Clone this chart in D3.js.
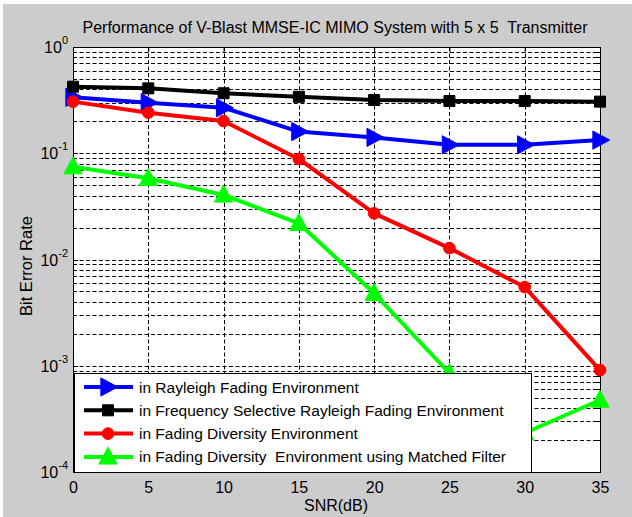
<html>
  <head>
    <script src="https://d3js.org/d3.v7.min.js"></script>
    <style>
      body { margin: 0; background: #fff; }
      text { font-family: "Liberation Sans", Arial, sans-serif; }
    </style>
  </head>
  <body>
<div id="my_dataviz"></div>
<script>
// data
var snr = [0, 5, 10, 15, 20, 25, 30, 35];
var rayleigh = [0.336, 0.299, 0.268, 0.160, 0.141, 0.120, 0.120, 0.133];
var freqSelective = [0.423, 0.408, 0.367, 0.340, 0.317, 0.310, 0.310, 0.306];
var diversity = [0.306, 0.241, 0.201, 0.0883, 0.0272, 0.0128, 0.0055, 0.00091];
var matchedFilter = [0.0747, 0.0581, 0.0405, 0.0219, 0.00481, 0.00085, 0.000233, 0.000476];
var seriesNames = [
  "in Rayleigh Fading Environment",
  "in Frequency Selective Rayleigh Fading Environment",
  "in Fading Diversity Environment",
  "in Fading Diversity  Environment using Matched Filter"
];
var xTicks = [0, 5, 10, 15, 20, 25, 30, 35];
var yExponents = [0, -1, -2, -3, -4];

var W = 632, H = 517;
var margin = {top: 47, right: 32, bottom: 45, left: 73},
    width = W - margin.left - margin.right,
    height = H - margin.top - margin.bottom;

var svg = d3.select("#my_dataviz")
  .append("svg")
    .attr("width", W)
    .attr("height", H);

// figure background
svg.append("rect")
  .attr("x", 3).attr("y", 4)
  .attr("width", W - 3).attr("height", H - 4)
  .attr("fill", "#cccccc");

var g = svg.append("g")
  .attr("transform", "translate(" + margin.left + "," + margin.top + ")");

g.append("rect")
  .attr("width", width).attr("height", height)
  .attr("fill", "#fff");

var x = d3.scaleLinear().domain([0, 35]).range([0, width]);
var y = d3.scaleLog().domain([1e-4, 1]).range([height, 0]);

// all log ticks (1..9 per decade)
var yAll = [];
for (var e = -4; e < 0; e++) {
  for (var m = 1; m <= 9; m++) yAll.push(m * Math.pow(10, e));
}
yAll.push(1);

// grid
g.append("g")
  .selectAll("line")
  .data(yAll.filter(function(v) { return v > 1e-4 && v < 1; }))
  .enter().append("line")
    .attr("x1", 0).attr("x2", width)
    .attr("y1", function(d) { return Math.round(y(d)) + 0.5; })
    .attr("y2", function(d) { return Math.round(y(d)) + 0.5; })
    .attr("stroke", "#000").attr("stroke-width", 1)
    .attr("stroke-dasharray", "4,2.5");
g.append("g")
  .selectAll("line")
  .data(xTicks.filter(function(v) { return v > 0 && v < 35; }))
  .enter().append("line")
    .attr("x1", function(d) { return Math.round(x(d)) + 0.5; })
    .attr("x2", function(d) { return Math.round(x(d)) + 0.5; })
    .attr("y1", 0).attr("y2", height)
    .attr("stroke", "#000").attr("stroke-width", 1)
    .attr("stroke-dasharray", "4,2.5");

// x axis (ticks inside, bottom and top)
var xAxis = g.append("g")
  .attr("transform", "translate(0," + height + ")")
  .call(d3.axisBottom(x).tickValues(xTicks).tickSizeInner(-5).tickSizeOuter(0).tickPadding(10));
xAxis.select(".domain").remove();
xAxis.selectAll("text").style("font-size", "16px").attr("fill", "#000");
g.append("g")
  .call(d3.axisTop(x).tickValues(xTicks).tickSizeInner(-5).tickSizeOuter(0).tickFormat(""))
  .select(".domain").remove();

// y ticks inside, left and right
g.append("g")
  .selectAll("line")
  .data(yAll)
  .enter().append("line")
    .attr("x1", 0)
    .attr("x2", function(d) { return Number.isInteger(Math.log10(d)) ? 5 : 3; })
    .attr("y1", function(d) { return Math.round(y(d)) + 0.5; })
    .attr("y2", function(d) { return Math.round(y(d)) + 0.5; })
    .attr("stroke", "#000");
g.append("g")
  .selectAll("line")
  .data(yAll)
  .enter().append("line")
    .attr("x1", width)
    .attr("x2", function(d) { return width - (Number.isInteger(Math.log10(d)) ? 5 : 3); })
    .attr("y1", function(d) { return Math.round(y(d)) + 0.5; })
    .attr("y2", function(d) { return Math.round(y(d)) + 0.5; })
    .attr("stroke", "#000");

// y tick labels 10^k
var yLab = g.append("g")
  .selectAll("text")
  .data(yExponents)
  .enter().append("text")
    .attr("x", -5)
    .attr("y", function(d) { return y(Math.pow(10, d)) + 6; })
    .attr("text-anchor", "end")
    .style("font-size", "16px");
yLab.append("tspan").text("10");
yLab.append("tspan")
  .attr("dy", -9)
  .style("font-size", "11px")
  .text(function(d) { return d; });

// axes box
g.append("rect")
  .attr("x", 0.5).attr("y", 0.5)
  .attr("width", width).attr("height", height)
  .attr("fill", "none").attr("stroke", "#000");

// marker shapes
function markerPath(type, s) {
  if (type === "right") return "M" + (-s*0.55) + "," + (-s*0.7) + "L" + (s*0.75) + ",0L" + (-s*0.55) + "," + (s*0.7) + "Z";
  if (type === "up") return "M0," + (-s*0.75) + "L" + (s*0.7) + "," + (s*0.55) + "L" + (-s*0.7) + "," + (s*0.55) + "Z";
  if (type === "square") return "M" + (-s/2) + "," + (-s/2) + "h" + s + "v" + s + "h" + (-s) + "Z";
  return d3.symbol().type(d3.symbolCircle).size(s * s * 0.75)();
}

var series = [
  {name: seriesNames[0], values: rayleigh, color: "#0000ff", marker: "right", size: 13},
  {name: seriesNames[1], values: freqSelective, color: "#000000", marker: "square", size: 11},
  {name: seriesNames[2], values: diversity, color: "#ff0000", marker: "circle", size: 12},
  {name: seriesNames[3], values: matchedFilter, color: "#00ff00", marker: "up", size: 13}
];

var line = d3.line()
  .x(function(d) { return x(d[0]); })
  .y(function(d) { return y(d[1]); });

series.forEach(function(s) {
  var pts = snr.map(function(v, i) { return [v, s.values[i]]; });
  g.append("path")
    .datum(pts)
    .attr("d", line)
    .attr("fill", "none")
    .attr("stroke", s.color)
    .attr("stroke-width", 4)
    .attr("stroke-linejoin", "round");
  g.append("g")
    .selectAll("path")
    .data(pts)
    .enter().append("path")
      .attr("transform", function(d) { return "translate(" + x(d[0]) + "," + y(d[1]) + ")"; })
      .attr("d", markerPath(s.marker, s.size))
      .attr("fill", s.color)
      .attr("stroke", s.color)
      .attr("stroke-width", 1);
});

// legend
var lg = svg.append("g").attr("transform", "translate(74,373)");
lg.append("rect")
  .attr("x", 0.5).attr("y", 0.5)
  .attr("width", 457).attr("height", 99)
  .attr("fill", "#fff").attr("stroke", "#000");
series.forEach(function(s, i) {
  var ly = 14 + i * 23.3;
  lg.append("line")
    .attr("x1", 10).attr("x2", 59)
    .attr("y1", ly).attr("y2", ly)
    .attr("stroke", s.color).attr("stroke-width", 4);
  lg.append("path")
    .attr("transform", "translate(34," + ly + ")")
    .attr("d", markerPath(s.marker, s.size))
    .attr("fill", s.color).attr("stroke", s.color);
  lg.append("text")
    .attr("x", 65).attr("y", ly + 5.5)
    .style("font-size", "15.5px")
    .style("white-space", "pre")
    .text(s.name);
});

// title and axis labels
svg.append("text")
  .attr("x", 335).attr("y", 33)
  .attr("text-anchor", "middle")
  .style("font-size", "16px")
  .style("white-space", "pre")
  .text("Performance of V-Blast MMSE-IC MIMO System with 5 x 5  Transmitter");

svg.append("text")
  .attr("x", 336).attr("y", 511)
  .attr("text-anchor", "middle")
  .style("font-size", "16px")
  .text("SNR(dB)");

svg.append("text")
  .attr("transform", "translate(32,266) rotate(-90)")
  .attr("text-anchor", "middle")
  .style("font-size", "16.5px")
  .text("Bit Error Rate");
</script>
  </body>
</html>
